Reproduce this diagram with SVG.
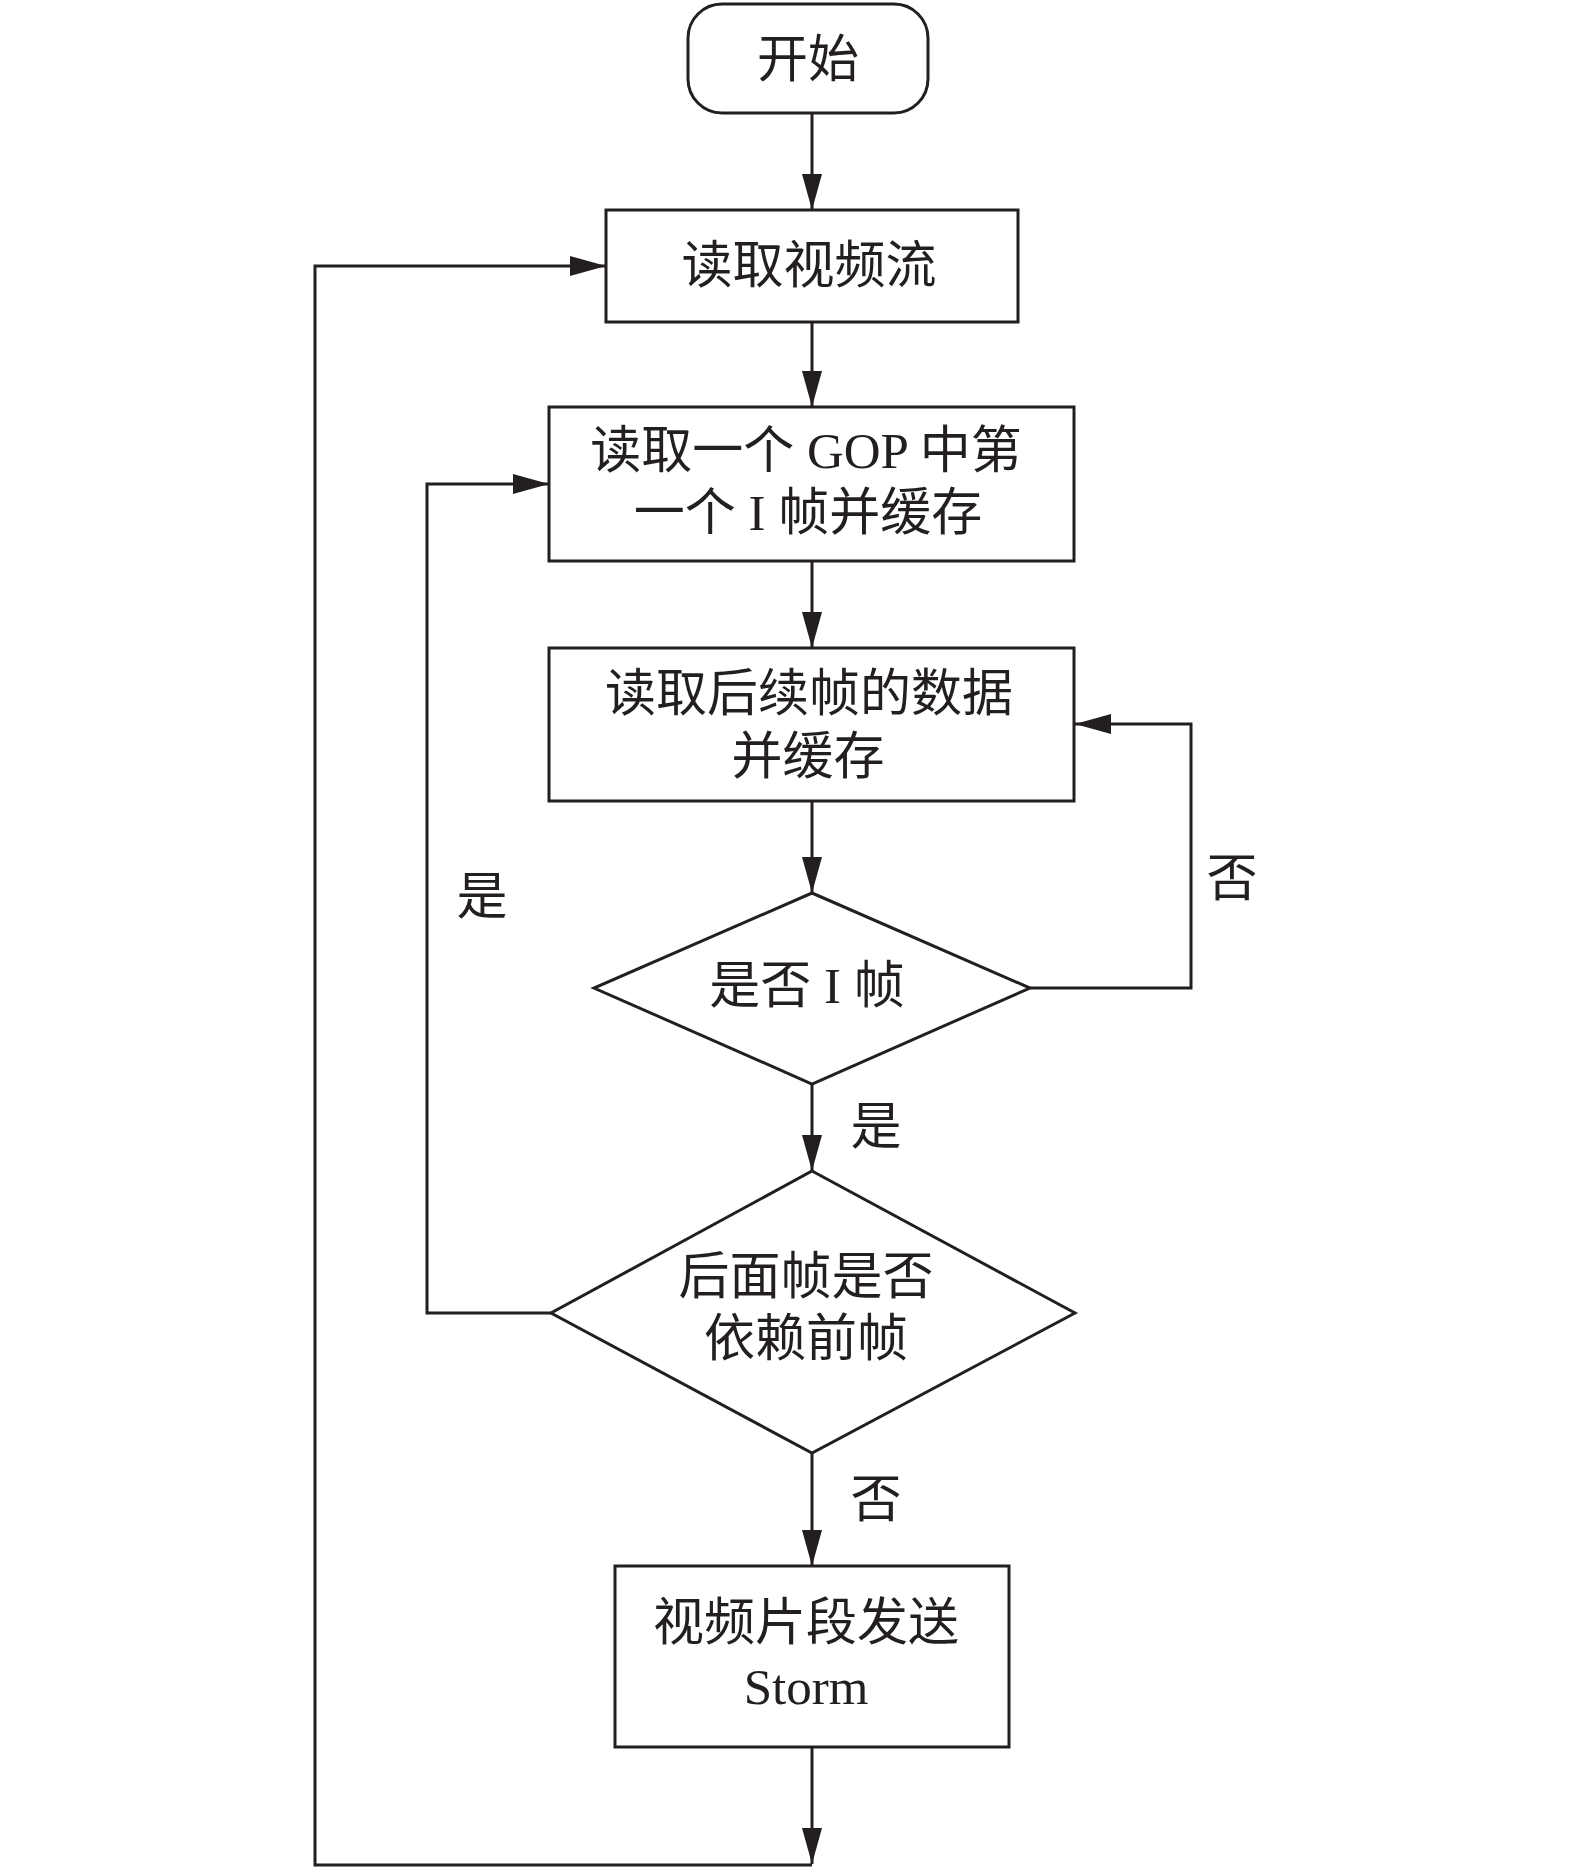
<svg xmlns="http://www.w3.org/2000/svg" width="1575" height="1870" viewBox="0 0 1575 1870">
<style>
.node{fill:#fff;stroke:#231f20;stroke-width:3}
.conn{fill:none;stroke:#231f20;stroke-width:3}
text{font-family:"Liberation Serif","Noto Sans CJK SC",serif;font-size:51px;fill:#231f20;text-anchor:middle;dominant-baseline:central}
</style>
<defs>
<marker id="arr" markerUnits="userSpaceOnUse" markerWidth="36" markerHeight="20" viewBox="0 0 36 20" refX="36" refY="10" orient="auto">
<path d="M0,0 L36,10 L0,20 z" fill="#231f20"/>
</marker>
</defs>
<rect width="1575" height="1870" fill="#fff"/>
<g id="connectors">
<line class="conn" x1="812" y1="113" x2="812" y2="210" marker-end="url(#arr)"/>
<line class="conn" x1="812" y1="322" x2="812" y2="407" marker-end="url(#arr)"/>
<line class="conn" x1="812" y1="561" x2="812" y2="648" marker-end="url(#arr)"/>
<line class="conn" x1="812" y1="801" x2="812" y2="893" marker-end="url(#arr)"/>
<line class="conn" x1="812" y1="1084" x2="812" y2="1171" marker-end="url(#arr)"/>
<line class="conn" x1="812" y1="1453" x2="812" y2="1566" marker-end="url(#arr)"/>
<line class="conn" x1="812" y1="1747" x2="812" y2="1864" marker-end="url(#arr)"/>
<polyline class="conn" points="1030,988 1191,988 1191,724 1075,724" marker-end="url(#arr)"/>
<polyline class="conn" points="551,1313 427,1313 427,484 549,484" marker-end="url(#arr)"/>
<polyline class="conn" points="812,1865 315,1865 315,266 606,266" marker-end="url(#arr)"/>
<text x="876" y="1127">是</text>
<text x="1232" y="879">否</text>
<text x="482" y="897">是</text>
<text x="876" y="1500">否</text>
</g>
<g id="start">
<rect class="node" x="688" y="4" width="240" height="109" rx="34" ry="34"/>
<text x="808" y="60">开始</text>
</g>
<g id="read-stream">
<rect class="node" x="606" y="210" width="412" height="112"/>
<text x="809" y="266">读取视频流</text>
</g>
<g id="read-gop">
<rect class="node" x="549" y="407" width="525" height="154"/>
<text x="806" y="451">读取一个 GOP 中第</text>
<text x="808" y="513">一个 I 帧并缓存</text>
</g>
<g id="read-frames">
<rect class="node" x="549" y="648" width="525" height="153"/>
<text x="809" y="694">读取后续帧的数据</text>
<text x="808" y="757">并缓存</text>
</g>
<g id="is-i-frame">
<polygon class="node" points="812,893 1030,988 812,1084 594,988"/>
<text x="807" y="986">是否 I 帧</text>
</g>
<g id="depends">
<polygon class="node" points="812,1171 1075,1313 812,1453 551,1313"/>
<text x="806" y="1277">后面帧是否</text>
<text x="806" y="1339">依赖前帧</text>
</g>
<g id="send">
<rect class="node" x="615" y="1566" width="394" height="181"/>
<text x="806" y="1623">视频片段发送</text>
<text x="806" y="1687">Storm</text>
</g>
</svg>
